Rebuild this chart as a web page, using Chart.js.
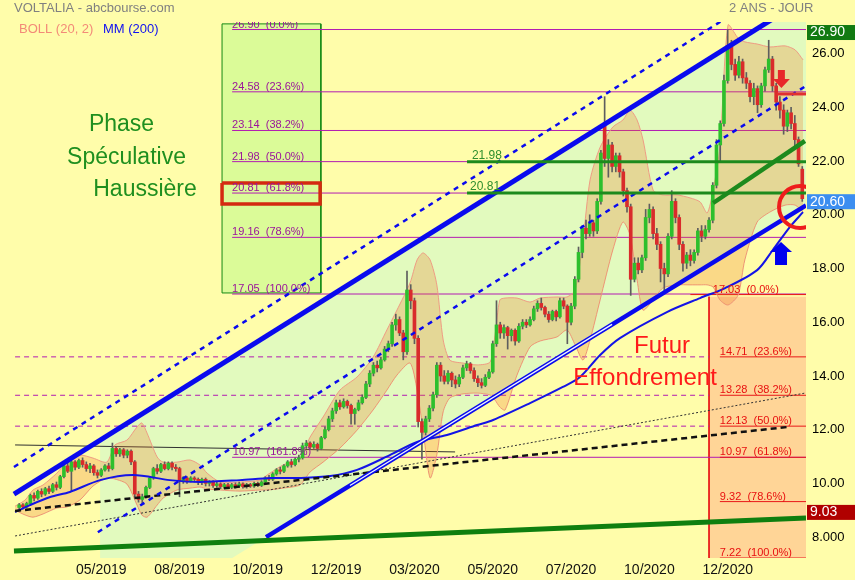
<!DOCTYPE html>
<html>
<head>
<meta charset="utf-8">
<script src="https://cdn.jsdelivr.net/npm/chart.js@4.4.1/dist/chart.umd.min.js"></script>
<style>
  html, body { margin: 0; padding: 0; background: #FFFDAA; }
</style>
</head>
<body>
<canvas id="chart" width="855" height="580"></canvas>
<script>
// ---------------------------------------- Data ----------------------------------------

const xTickPos = [25, 46, 67, 88, 109, 130, 151, 172, 193];
const xTickLabels = ["05/2019", "08/2019", "10/2019", "12/2019", "03/2020", "05/2020", "07/2020", "10/2020", "12/2020"];
const yTicks = [8, 10, 12, 14, 16, 18, 20, 22, 24, 26];

// daily candles, first one sits on slot 3
const firstDay = 3;
const opens = [
	9.10, 9.20, 9.12, 9.25, 9.55, 9.45, 9.70, 9.60, 9.80, 9.70,
	9.95, 9.85, 10.25, 10.65, 10.45, 10.80, 10.60, 10.85, 10.70, 10.55,
	10.65, 10.40, 10.30, 10.50, 10.65, 10.55, 11.30, 11.10, 11.25, 11.05,
	11.20, 10.80, 9.60, 9.40, 9.50, 9.85, 10.20, 10.55, 10.45, 10.70,
	10.55, 10.75, 10.60, 10.55, 10.10, 10.20, 10.10, 10.20, 10.15, 10.05,
	10.15, 10.00, 10.05, 9.92, 9.98, 9.88, 9.95, 9.85, 9.95, 9.90,
	9.98, 9.88, 9.95, 9.90, 10.00, 9.92, 10.05, 10.20, 10.15, 10.35,
	10.50, 10.45, 10.65, 10.80, 10.70, 10.90, 10.95, 11.40, 11.50, 11.35,
	11.45, 11.30, 11.70, 12.00, 12.40, 12.70, 13.00, 12.85, 13.05, 12.90,
	12.60, 12.75, 13.00, 13.20, 13.70, 14.10, 14.40, 14.30, 14.60, 15.00,
	15.20, 15.90, 16.10, 15.60, 14.90, 17.20, 16.80, 15.40, 12.30, 11.90,
	12.40, 12.80, 13.30, 14.40, 14.00, 13.80, 14.10, 13.85, 13.70, 13.95,
	14.30, 14.45, 14.20, 13.90, 13.75, 13.65, 13.95, 14.15, 15.20, 15.90,
	15.60, 15.80, 15.50, 15.70, 15.30, 15.85, 16.00, 15.90, 16.10, 16.50,
	16.70, 16.55, 16.30, 16.10, 16.40, 16.20, 16.80, 16.60, 16.00, 16.60,
	17.60, 18.60, 19.50, 19.30, 19.70, 19.40, 20.50, 23.30, 22.10, 22.60,
	21.80, 22.20, 21.60, 20.90, 20.30, 17.60, 18.20, 17.95, 18.40, 19.90,
	20.20, 19.30, 18.90, 18.00, 17.80, 19.20, 20.50, 19.90, 18.90, 18.20,
	18.50, 18.30, 18.60, 19.40, 19.20, 19.45, 19.80, 21.10, 22.60, 23.40,
	25.00, 26.30, 25.60, 25.20, 25.70, 25.10, 24.90, 24.40, 24.70, 24.10,
	24.80, 25.40, 25.80, 24.80, 24.20, 23.90, 23.30, 23.80, 23.40, 22.80,
	21.70
];
const highs = [
	9.25, 9.25, 9.30, 9.60, 9.65, 9.75, 9.80, 9.85, 9.90, 10.00,
	10.05, 10.30, 10.75, 10.80, 10.90, 10.85, 10.90, 10.95, 10.80, 10.75,
	10.70, 10.50, 10.55, 10.70, 10.75, 11.50, 11.35, 11.30, 11.30, 11.25,
	11.25, 10.85, 9.70, 9.60, 9.90, 10.25, 10.60, 10.70, 10.75, 10.80,
	10.80, 10.80, 10.70, 10.60, 10.25, 10.25, 10.25, 10.25, 10.20, 10.20,
	10.20, 10.10, 10.10, 10.05, 10.02, 10.00, 10.00, 10.00, 10.02, 10.05,
	10.02, 10.00, 10.00, 10.05, 10.05, 10.10, 10.25, 10.30, 10.40, 10.55,
	10.60, 10.70, 10.85, 10.90, 10.95, 11.05, 11.50, 11.60, 11.55, 11.55,
	11.50, 11.75, 12.10, 12.50, 12.80, 13.10, 13.10, 13.15, 13.10, 12.95,
	12.80, 13.10, 13.30, 13.80, 14.20, 14.50, 14.55, 14.70, 15.10, 15.30,
	16.00, 16.30, 16.20, 15.70, 17.90, 17.40, 16.90, 15.50, 12.40, 12.50,
	12.90, 13.40, 14.50, 14.50, 14.20, 14.20, 14.15, 14.00, 14.05, 14.40,
	14.55, 14.50, 14.30, 14.00, 13.90, 14.05, 14.25, 15.30, 16.80, 16.00,
	15.90, 15.85, 15.75, 15.75, 15.95, 16.10, 16.10, 16.20, 16.60, 16.80,
	16.90, 16.60, 16.40, 16.45, 16.45, 16.90, 16.90, 16.65, 16.70, 17.70,
	18.80, 19.60, 19.80, 20.00, 19.80, 20.60, 22.40, 24.40, 22.80, 22.70,
	22.30, 22.30, 21.70, 21.00, 20.40, 18.40, 18.40, 18.50, 20.20, 20.40,
	20.30, 19.50, 19.00, 18.20, 19.30, 20.90, 20.60, 20.00, 19.00, 18.60,
	18.70, 18.70, 19.50, 19.60, 19.60, 19.90, 21.20, 22.80, 23.50, 25.20,
	26.90, 26.50, 25.80, 25.90, 25.80, 25.30, 25.00, 24.90, 24.80, 24.90,
	25.50, 26.50, 25.90, 24.90, 24.40, 24.10, 23.90, 24.00, 23.70, 22.90,
	21.80
];
const lows = [
	9.05, 9.05, 9.08, 9.20, 9.35, 9.40, 9.50, 9.55, 9.62, 9.65,
	9.75, 9.80, 10.20, 10.40, 9.70, 10.50, 10.55, 10.60, 10.45, 10.40,
	10.30, 10.20, 10.25, 10.45, 10.45, 10.50, 11.00, 11.00, 10.95, 10.95,
	10.70, 9.50, 9.30, 9.25, 9.45, 9.80, 10.15, 10.35, 10.40, 10.50,
	10.50, 10.50, 10.45, 9.50, 10.00, 10.00, 10.05, 10.05, 9.95, 9.95,
	9.90, 9.90, 9.85, 9.85, 9.80, 9.82, 9.80, 9.80, 9.82, 9.85,
	9.82, 9.82, 9.85, 9.85, 9.88, 9.88, 10.00, 10.10, 10.10, 10.30,
	10.35, 10.40, 10.60, 10.60, 10.65, 10.80, 10.90, 11.30, 11.25, 11.30,
	11.20, 11.25, 11.65, 11.95, 12.30, 12.60, 12.75, 12.80, 12.80, 12.20,
	12.20, 12.70, 12.95, 13.15, 13.60, 14.00, 14.15, 14.25, 14.55, 14.90,
	15.10, 15.70, 15.50, 14.60, 14.80, 16.50, 15.20, 12.10, 10.90, 11.80,
	12.30, 12.70, 13.20, 13.80, 13.70, 13.70, 13.60, 13.55, 13.60, 13.90,
	14.20, 14.10, 13.80, 13.60, 13.55, 13.60, 13.90, 14.10, 15.10, 15.40,
	15.40, 15.00, 15.30, 15.15, 15.25, 15.75, 15.80, 15.85, 16.05, 16.40,
	16.45, 16.20, 16.00, 16.05, 16.05, 16.15, 16.50, 15.20, 15.90, 16.50,
	17.50, 18.40, 19.10, 19.20, 19.20, 19.30, 20.40, 21.80, 21.40, 21.60,
	21.60, 21.40, 20.70, 20.10, 17.00, 17.50, 17.80, 17.85, 18.30, 19.70,
	19.10, 18.70, 17.50, 17.10, 17.70, 19.10, 19.70, 18.70, 17.90, 18.00,
	18.10, 18.20, 18.50, 19.00, 19.10, 19.35, 19.70, 21.00, 22.00, 23.30,
	24.90, 25.40, 25.00, 25.10, 24.90, 24.70, 24.20, 24.10, 23.80, 24.00,
	24.60, 25.30, 24.60, 23.90, 23.60, 23.00, 23.10, 23.20, 22.50, 21.80,
	20.50
];
const closes = [
	9.20, 9.12, 9.25, 9.55, 9.45, 9.70, 9.60, 9.80, 9.70, 9.95,
	9.85, 10.25, 10.65, 10.45, 10.80, 10.60, 10.85, 10.70, 10.55, 10.65,
	10.40, 10.30, 10.50, 10.65, 10.55, 11.30, 11.10, 11.25, 11.05, 11.20,
	10.80, 9.60, 9.40, 9.50, 9.85, 10.20, 10.55, 10.45, 10.70, 10.55,
	10.75, 10.60, 10.55, 10.10, 10.20, 10.10, 10.20, 10.15, 10.05, 10.15,
	10.00, 10.05, 9.92, 9.98, 9.88, 9.95, 9.85, 9.95, 9.90, 9.98,
	9.88, 9.95, 9.90, 10.00, 9.92, 10.05, 10.20, 10.15, 10.35, 10.50,
	10.45, 10.65, 10.80, 10.70, 10.90, 10.95, 11.40, 11.50, 11.35, 11.45,
	11.30, 11.70, 12.00, 12.40, 12.70, 13.00, 12.85, 13.05, 12.90, 12.60,
	12.75, 13.00, 13.20, 13.70, 14.10, 14.40, 14.30, 14.60, 15.00, 15.20,
	15.90, 16.10, 15.60, 14.90, 17.20, 16.80, 15.40, 12.30, 11.90, 12.40,
	12.80, 13.30, 14.40, 14.00, 13.80, 14.10, 13.85, 13.70, 13.95, 14.30,
	14.45, 14.20, 13.90, 13.75, 13.65, 13.95, 14.15, 15.20, 15.90, 15.60,
	15.80, 15.50, 15.70, 15.30, 15.85, 16.00, 15.90, 16.10, 16.50, 16.70,
	16.55, 16.30, 16.10, 16.40, 16.20, 16.80, 16.60, 16.00, 16.60, 17.60,
	18.60, 19.50, 19.30, 19.70, 19.40, 20.50, 22.30, 22.10, 22.60, 21.80,
	22.20, 21.60, 20.90, 20.30, 17.60, 18.20, 17.95, 18.40, 19.90, 20.20,
	19.30, 18.90, 18.00, 17.80, 19.20, 20.50, 19.90, 18.90, 18.20, 18.50,
	18.30, 18.60, 19.40, 19.20, 19.45, 19.80, 21.10, 22.60, 23.40, 25.00,
	26.30, 25.60, 25.20, 25.70, 25.10, 24.90, 24.40, 24.70, 24.10, 24.80,
	25.40, 25.80, 24.80, 24.20, 23.90, 23.30, 23.80, 23.40, 22.80, 21.90,
	20.60
];

// Bollinger (20, 2), upper and lower band read at the same slots
const bbX = [
	1.9, 4.6, 6.7, 9.4, 13.1, 15.8, 19.3, 22.8, 26.5, 28.7,
	31.9, 34.6, 35.9, 37.3, 40.0, 41.6, 45.3, 48.8, 51.5, 53.4,
	56.9, 62.2, 67.6, 69.5, 73.7, 78.3, 81.0, 84.5, 89.0, 93.6,
	97.9, 101.6, 104.3, 107.8, 109.7, 111.3, 113.2, 115.0, 116.7, 118.5,
	122.0, 125.8, 129.3, 130.6, 131.9, 133.3, 136.5, 140.0, 142.7, 147.2,
	149.9, 152.1, 154.2, 156.1, 158.8, 162.2, 164.9, 166.8, 168.7, 170.3,
	173.0, 175.6, 179.4, 182.9, 185.6, 187.5, 189.1, 190.9, 193.1, 195.8,
	197.6, 200.9, 204.3, 208.4, 211.1, 213.2
];
const bbUpper = [
	9.15, 9.38, 9.75, 9.94, 10.38, 10.79, 11.05, 10.94, 10.79, 11.43,
	11.61, 12.10, 12.25, 11.87, 10.98, 10.79, 10.79, 10.87, 10.68, 10.38,
	10.05, 10.05, 10.12, 10.31, 10.68, 10.94, 11.72, 12.47, 13.47, 13.96,
	14.70, 15.71, 16.45, 17.46, 18.32, 18.58, 18.32, 17.39, 15.34, 14.59,
	14.48, 14.41, 14.52, 15.52, 16.83, 16.90, 16.90, 16.75, 16.90, 16.94,
	16.94, 17.20, 19.06, 21.30, 22.52, 23.27, 23.53, 23.90, 23.53, 22.79,
	20.92, 20.74, 20.74, 20.63, 20.48, 20.07, 20.92, 22.52, 27.07, 26.58,
	26.44, 26.36, 26.25, 26.29, 26.14, 25.77
];
const bbLower = [
	9.00, 8.82, 8.74, 8.86, 9.08, 9.12, 9.38, 9.90, 10.20, 10.16,
	9.97, 9.19, 8.82, 8.74, 9.19, 9.45, 9.75, 9.82, 9.86, 9.79,
	9.75, 9.71, 9.75, 9.75, 9.82, 9.94, 10.42, 10.79, 11.31, 11.98,
	12.73, 13.47, 14.03, 14.48, 13.47, 11.98, 10.20, 11.06, 12.66, 13.18,
	13.33, 13.36, 13.29, 13.10, 12.84, 12.73, 14.03, 15.08, 15.30, 15.45,
	15.71, 15.15, 14.59, 15.34, 16.83, 18.69, 19.73, 19.25, 17.57, 16.45,
	16.83, 17.27, 17.39, 17.39, 17.39, 17.39, 17.31, 16.83, 16.64, 17.01,
	18.32, 19.73, 20.10, 20.36, 20.36, 20.10
];

// MM (200)
const mmX = [1.9, 5.9, 11.3, 16.6, 24.7, 33.5, 43.4, 51.5, 62.2, 70.3, 78.3, 86.4, 93.6, 102.4, 109.7,
	117.7, 125.8, 130.1, 140.0, 148.8, 153.4, 158.8, 164.1, 176.7, 185.6, 192.3, 200.9, 205.1, 209.7, 213.2];
const mmY = [8.93, 9.19, 9.49, 9.68, 10.12, 10.31, 10.12, 10.05, 10.12, 10.20, 10.20, 10.27, 10.50, 11.05, 11.54,
	11.80, 12.17, 12.36, 12.99, 13.59, 13.96, 14.78, 15.41, 16.38, 16.90, 17.27, 17.94, 18.69, 19.55, 20.10];

// Fibonacci retracements
const fibPct = ["0.0%", "23.6%", "38.2%", "50.0%", "61.8%", "78.6%", "100.0%"];
const fibUp = [26.90, 24.58, 23.14, 21.98, 20.81, 19.16, 17.05];
const fibDown = [17.03, 14.71, 13.28, 12.13, 10.97, 9.32, 7.22];
const fibExt = 10.97;
const dashedLevels = [14.71, 13.28, 12.13];
const greenLevels = [21.98, 20.81];

// trend lines [x0, y0, x1, y1]
const upperThick = [1.6, 9.60, 214, 28.07];
const upperDash = [1.6, 10.61, 214, 29.20];
const middleDash = [24.1, 8.18, 214, 24.80];
const lowerThick = [69.2, 8.00, 214, 20.35];
const lowerDouble = [91.7, 9.92, 162.0, 15.92];
const blackLine = [1.9, 11.43, 119.9, 11.17];
const blackDash = [1.9, 8.97, 209.2, 12.10];
const blackDot = [1.9, 8.04, 213.7, 13.36];
const greenBottom = [1.6, 7.48, 214, 8.71];
const greenShort = [189.1, 20.44, 213.7, 22.75];
const redShort = [206.2, 24.50, 214, 24.50];

// shaded zones
const channelX = [24.7, 203.8, 214, 214, 60.1, 24.7];
const channelY = [11.61, 27.18, 27.18, 20.35, 7.22, 7.22];
const fibBoxX = [57.4, 83.9];
const fibBoxY = [27.11, 17.09];
const fallBoxX = [188.0, 214];
const fallBoxY = [16.95, 7.22];
const frameX = [57.4, 83.7];
const frameY = [21.18, 20.40];

// markers
const circleAt = [212.4, 20.29];
const downArrow = [207.4, 25.39, 24.72];
const upArrow = [207.3, 18.13, 18.99];
const flags = [
	{ value: 26.90, bg: "#127A12" },
	{ value: 20.60, bg: "#3C8EF0" },
	{ value: 9.03, bg: "#B00000" },
];

// ---------------------------------------- Helpers ----------------------------------------

const SANS = '"Liberation Sans", Arial, sans-serif';
const NARROW = '"Liberation Sans Narrow", "Arial Narrow", "Liberation Sans", sans-serif';

function pts(xs, ys) {
	return xs.map((v, k) => ({ x: v, y: ys[k] }));
}
function seg(s) {
	return [{ x: s[0], y: s[1] }, { x: s[2], y: s[3] }];
}
function hline(v, x0, x1) {
	return [{ x: x0, y: v }, { x: x1, y: v }];
}
function rect(xs, ys) {
	return pts([xs[0], xs[1], xs[1], xs[0], xs[0]], [ys[0], ys[0], ys[1], ys[1], ys[0]]);
}
function line(data, color, width, dash, order) {
	return {
		type: "line", data: data, borderColor: color, borderWidth: width, borderDash: dash || [],
		pointRadius: 0, fill: false, tension: 0, order: order, clip: 0,
	};
}
function zone(data, color, border, order) {
	return {
		type: "line", data: data, backgroundColor: color, borderColor: border || "transparent",
		borderWidth: border ? 1 : 0, pointRadius: 0, fill: "shape", tension: 0, order: order, clip: 0,
	};
}

// ---------------------------------------- Datasets ----------------------------------------

const datasets = [];

datasets.push(zone(pts(channelX, channelY), "#E2FABE", null, 100));
datasets.push(zone(rect(fibBoxX, fibBoxY), "#DBFB98", "#148A14", 95));
datasets.push(zone(rect(fallBoxX, fallBoxY), "#FFD597", null, 95));
datasets.push(line([{ x: fallBoxX[0], y: fallBoxY[0] }, { x: fallBoxX[0], y: fallBoxY[1] }], "#E81818", 1, null, 94));

fibUp.forEach((v) => datasets.push(line(hline(v, 60.1, 214), "#B21CB2", 1, null, 90)));
datasets.push(line(hline(fibExt, 60.1, 214), "#B21CB2", 1, null, 90));
dashedLevels.forEach((v) => datasets.push(line(hline(v, 1.9, 188.0), "#B21CB2", 1, [5, 4], 90)));
datasets.push(line(seg(blackLine), "#303030", 1, null, 90));
datasets.push(line(hline(fibDown[0], 183, 214), "#E81818", 1, null, 89));
fibDown.slice(1).forEach((v) => datasets.push(line(hline(v, 190.9, 214), "#E81818", 1, null, 89)));

// Bollinger band: upper fills down to the next dataset (lower)
datasets.push({
	type: "line", data: pts(bbX, bbUpper), borderColor: "#EF9C84", borderWidth: 1,
	backgroundColor: "rgba(235,110,30,0.25)", fill: "+1", pointRadius: 0, tension: 0.25, order: 80, clip: 0,
});
datasets.push({
	type: "line", data: pts(bbX, bbLower), borderColor: "#EF9C84", borderWidth: 1,
	fill: false, pointRadius: 0, tension: 0.25, order: 80, clip: 0,
});

// candles
const wickData = opens.map((o, k) => ({ x: firstDay + k, y: [lows[k], highs[k]] }));
const bodyData = opens.map((o, k) => ({ x: firstDay + k, y: [o, closes[k]] }));
const bodyColors = opens.map((o, k) => (closes[k] >= o ? "#2DBF2D" : "#D92B2B"));
datasets.push({ type: "bar", data: wickData, backgroundColor: "#5E5E5E", barThickness: 1, grouped: false, order: 70 });
datasets.push({ type: "bar", data: bodyData, backgroundColor: bodyColors, barThickness: 3, minBarLength: 1, grouped: false, order: 69 });

// MM 200
datasets.push(Object.assign(line(pts(mmX, mmY), "#1414E6", 2, null, 60), { tension: 0.3 }));

datasets.push(line(seg(blackDash), "#111111", 2.5, [6, 4], 55));
datasets.push(line(seg(blackDot), "#333333", 1, [2, 2], 55));

datasets.push(line(seg(upperThick), "#0A0AEE", 5, null, 50));
datasets.push(line(seg(upperDash), "#0A0AEE", 2.5, [5, 5], 50));
datasets.push(line(seg(middleDash), "#0A0AEE", 2.5, [5, 5], 50));
datasets.push(line(seg(lowerThick), "#0A0AEE", 4.5, null, 50));
datasets.push(line(seg(lowerDouble), "#EEF4FF", 1.3, null, 49));

datasets.push(line(seg(greenBottom), "#0F7F0F", 5, null, 45));
greenLevels.forEach((v) => datasets.push(line(hline(v, 123.1, 214), "#1D8A1D", 3, null, 45)));
datasets.push(line(seg(greenShort), "#1D8A1D", 4.5, null, 45));

datasets.push(line(seg(redShort), "#E03030", 3, null, 40));
datasets.push(Object.assign(line(rect(frameX, frameY), "#D42A10", 3.5, null, 40), { borderJoinStyle: "miter" }));

// ---------------------------------------- Overlay texts and marks ----------------------------------------

const overlay = {
	id: "overlay",
	beforeDraw(chart) {
		const { ctx, width, height } = chart;
		ctx.save();
		ctx.fillStyle = "#FFFDAA";
		ctx.fillRect(0, 0, width, height);
		ctx.restore();
	},
	afterDatasetsDraw(chart) {
		const { ctx, chartArea: a } = chart;
		const px = (v) => chart.scales.x.getPixelForValue(v);
		const py = (v) => chart.scales.y.getPixelForValue(v);
		ctx.save();
		ctx.beginPath();
		ctx.rect(a.left, a.top, a.right - a.left, a.bottom - a.top);
		ctx.clip();

		ctx.textAlign = "left";
		ctx.textBaseline = "alphabetic";
		ctx.font = "11px " + SANS;
		ctx.fillStyle = "#9A149A";
		fibUp.forEach((v, k) => ctx.fillText(v.toFixed(2) + "  (" + fibPct[k] + ")", px(60.1), py(v) - 2));
		ctx.fillText(fibExt.toFixed(2) + "  (161.8%)", px(60.3), py(fibExt) - 2);
		ctx.fillStyle = "#E81010";
		fibDown.forEach((v, k) => ctx.fillText(v.toFixed(2) + "  (" + fibPct[k] + ")", px(k === 0 ? 189 : 190.9), py(v) - 2));

		ctx.font = "12px " + SANS;
		ctx.fillStyle = "#2F8F2F";
		ctx.fillText("21.98", px(124.4), py(21.98) - 3);
		ctx.fillText("20.81", px(123.9), py(20.81) - 3);

		ctx.textAlign = "center";
		ctx.textBaseline = "middle";
		ctx.font = "23px " + SANS;
		ctx.fillStyle = "#1F8F1F";
		ctx.fillText("Phase", 121.5, 125);
		ctx.fillText("Spéculative", 126.5, 158);
		ctx.fillText("Haussière", 145, 190);
		ctx.font = "24px " + SANS;
		ctx.fillStyle = "#FF1A1A";
		ctx.fillText("Futur", 662, 346);
		ctx.fillText("Effondrement", 645, 378);

		// red circle
		ctx.beginPath();
		ctx.arc(px(circleAt[0]), py(circleAt[1]), 21, 0, Math.PI * 2);
		ctx.lineWidth = 4;
		ctx.strokeStyle = "#EE1C1C";
		ctx.stroke();

		// arrows
		drawArrow(ctx, px(downArrow[0]), py(downArrow[1]), py(downArrow[2]), 7, 17, 9, "#E8282A");
		drawArrow(ctx, px(upArrow[0]), py(upArrow[1]), py(upArrow[2]), 12, 22, 10, "#0000EE");
		ctx.restore();
	},
	afterDraw(chart) {
		const { ctx } = chart;
		const py = (v) => chart.scales.y.getPixelForValue(v);
		ctx.save();
		ctx.textAlign = "left";
		ctx.textBaseline = "middle";
		ctx.font = "13px " + SANS;
		ctx.fillStyle = "#808080";
		ctx.fillText("VOLTALIA - abcbourse.com", 14, 8);
		ctx.fillText("2 ANS - JOUR", 729, 8);
		ctx.fillStyle = "#F38A78";
		ctx.fillText("BOLL (20, 2)", 19, 29);
		ctx.fillStyle = "#1010F0";
		ctx.fillText("MM (200)", 103, 29);

		ctx.font = "14px " + NARROW;
		flags.forEach((f) => {
			const y = py(f.value) + 3;
			ctx.fillStyle = f.bg;
			ctx.fillRect(807, y - 7.5, 48, 15);
			ctx.fillStyle = "#FFFFFF";
			ctx.fillText(f.value.toFixed(2), 810, y);
		});
		ctx.restore();
	},
};

function drawArrow(ctx, cx, yTail, yTip, shaftW, headW, headH, color) {
	const dir = yTip > yTail ? 1 : -1;
	const yBase = yTip - dir * headH;
	ctx.beginPath();
	ctx.moveTo(cx - shaftW / 2, yTail);
	ctx.lineTo(cx + shaftW / 2, yTail);
	ctx.lineTo(cx + shaftW / 2, yBase);
	ctx.lineTo(cx + headW / 2, yBase);
	ctx.lineTo(cx, yTip);
	ctx.lineTo(cx - headW / 2, yBase);
	ctx.lineTo(cx - shaftW / 2, yBase);
	ctx.closePath();
	ctx.fillStyle = color;
	ctx.fill();
}

// ---------------------------------------- Chart ----------------------------------------

new Chart(document.getElementById("chart"), {
	type: "bar",
	data: { datasets: datasets },
	options: {
		responsive: false,
		animation: false,
		layout: { padding: { left: 8, top: 22, right: 0, bottom: 0 } },
		plugins: { legend: { display: false }, tooltip: { enabled: false } },
		scales: {
			x: {
				type: "linear",
				min: 0,
				max: 214,
				offset: false,
				grid: { display: false, drawTicks: false },
				border: { display: false },
				afterBuildTicks: (s) => { s.ticks = xTickPos.map((v) => ({ value: v })); },
				afterFit: (s) => { s.height = 22; },
				ticks: {
					autoSkip: false,
					maxRotation: 0,
					padding: 4,
					color: "#111111",
					font: { family: NARROW, size: 14 },
					callback: (v) => xTickLabels[xTickPos.indexOf(v)],
				},
			},
			y: {
				type: "linear",
				position: "right",
				min: 7.22,
				max: 27.18,
				beginAtZero: false,
				grid: { display: false, drawTicks: false },
				border: { display: false },
				afterBuildTicks: (s) => { s.ticks = yTicks.map((v) => ({ value: v })); },
				afterFit: (s) => { s.width = 49; },
				ticks: {
					autoSkip: false,
					padding: 6,
					color: "#000000",
					font: { family: NARROW, size: 13 },
					callback: (v) => (v === 8 ? "8.000" : v.toFixed(2)),
				},
			},
		},
	},
	plugins: [overlay],
});
</script>
</body>
</html>
